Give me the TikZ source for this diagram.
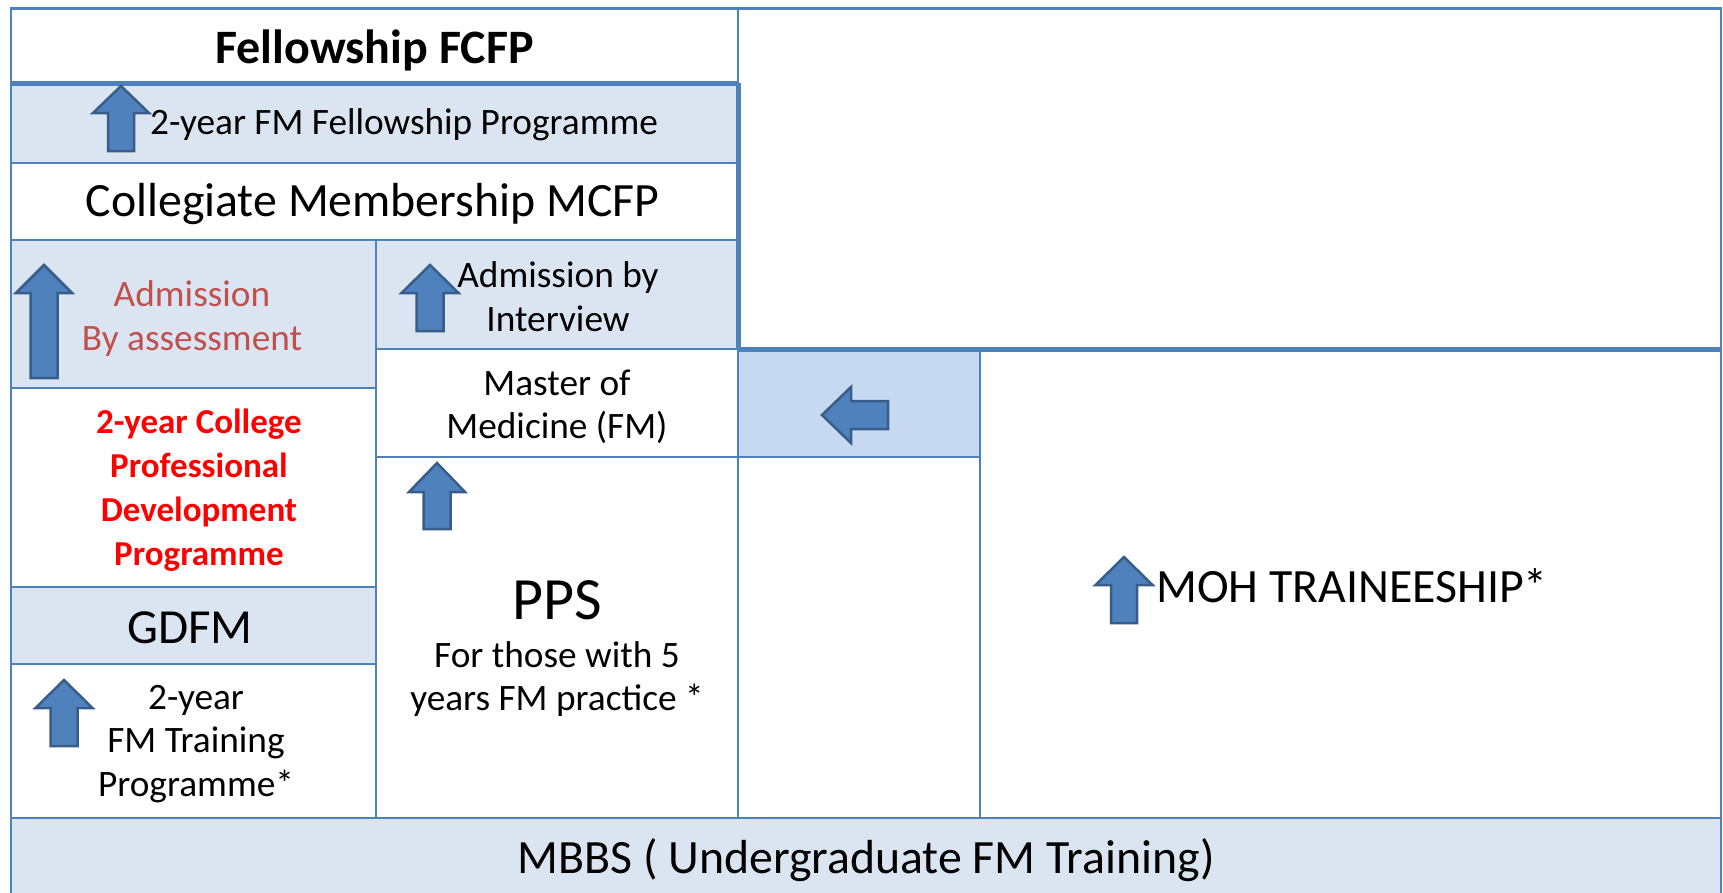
\documentclass[tikz,border=0pt]{standalone}
\usepackage{fontspec}
\setmainfont{Carlito}
\definecolor{bordc}{HTML}{4F81BD}
\definecolor{lblue}{HTML}{DBE5F1}
\definecolor{mblue}{HTML}{C6D9F1}
\definecolor{arrfill}{HTML}{4F81BD}
\definecolor{arrline}{HTML}{385D8A}
\definecolor{redish}{HTML}{C0504D}
\definecolor{pured}{HTML}{FF0000}
\newcommand\bodyfont{\fontsize{37.3}{43.5}\selectfont}
\newcommand\boldbodyfont{\fontsize{35}{44}\selectfont\bfseries}
\newcommand\bigfont{\fontsize{47.8}{56}\selectfont}
\newcommand\hugefont{\fontsize{60}{70}\selectfont}
\tikzset{
  cell/.style={draw=bordc, line width=2pt, inner sep=0pt, outer sep=0pt, align=center},
  white cell/.style={cell, fill=white},
  blue cell/.style={cell, fill=lblue},
  mid cell/.style={cell, fill=mblue},
  thick rule/.style={draw=bordc, line width=5pt},
  blockarrow/.style={fill=arrfill, draw=arrline, line width=2.5pt, line join=miter},
  txt/.style={inner sep=0pt, align=center, text=black},
}
% up arrow: tip x, tip y, head half width, head base y, shaft half width, bottom y
\newcommand\blockup[6]{%
  \path[blockarrow] (#1,#2) -- (#1+#3,#4) -- (#1+#5,#4) -- (#1+#5,#6) -- (#1-#5,#6) -- (#1-#5,#4) -- (#1-#3,#4) -- cycle;}
\begin{document}
\begin{tikzpicture}[x=1pt,y=-1pt]
\useasboundingbox (0,0) rectangle (1723,892);
\fill[white] (0,0) rectangle (1723,892);
% cells
\node[white cell, minimum width=727pt, minimum height=75pt] (fcfp) at (374.5,45.5) {};
\node[blue cell, minimum width=727pt, minimum height=80pt] (fprog) at (374.5,123) {};
\node[white cell, minimum width=727pt, minimum height=77pt] (mcfp) at (374.5,201.5) {};
\node[blue cell, minimum width=365pt, minimum height=148pt] (assess) at (193.5,314) {};
\node[white cell, minimum width=365pt, minimum height=199pt] (cpdp) at (193.5,487.5) {};
\node[blue cell, minimum width=365pt, minimum height=77pt] (gdfm) at (193.5,625.5) {};
\node[white cell, minimum width=365pt, minimum height=154pt] (fmtp) at (193.5,741) {};
\node[blue cell, minimum width=362pt, minimum height=109pt] (interview) at (557,294.5) {};
\node[white cell, minimum width=362pt, minimum height=108pt] (mmed) at (557,403) {};
\node[white cell, minimum width=362pt, minimum height=361pt] (pps) at (557,637.5) {};
\node[white cell, minimum width=983pt, minimum height=341pt] (upright) at (1229.5,178.5) {};
\node[mid cell, minimum width=242pt, minimum height=108pt] (arrcell) at (859,403) {};
\node[white cell, minimum width=242pt, minimum height=361pt] (blank) at (859,637.5) {};
\node[white cell, minimum width=741pt, minimum height=469pt] (moh) at (1350.5,583.5) {};
\node[blue cell, minimum width=1710pt, minimum height=84pt] (mbbs) at (866,860) {};
% thick rules
\draw[thick rule] (fprog.north west) -- (fprog.north east);
\draw[thick rule] (fprog.north east) -- (interview.south east);
\draw[thick rule] (upright.south west) -- (upright.south east);
\draw[draw=bordc, line width=3pt] (fcfp.north west) -- (upright.north east);
% texts
\node[txt, font=\fontsize{48}{56}\selectfont\bfseries] (tfcfp) at (374.5,50) {Fellowship FCFP};
\node[txt, font=\bodyfont, anchor=west] (tfprog) at (150,125) {2-year FM Fellowship Programme};
\node[txt, font=\bigfont] (tmcfp) at (372.5,204) {Collegiate Membership MCFP};
\node[txt, font=\bodyfont, text=redish] (tassess) at (192,318.5) {Admission\\By assessment};
\node[txt, font=\bodyfont] (tinterview) at (558,296.5) {Admission by\\Interview};
\node[txt, font=\bodyfont] (tmmed) at (557,407) {Master of\\Medicine (FM)};
\node[txt, font=\boldbodyfont, text=pured] (tcpdp) at (199,490) {2-year College\\Professional\\Development\\Programme};
\node[txt, font=\fontsize{49}{56}\selectfont] (tgdfm) at (190,628) {GDFM};
\node[txt, font=\bodyfont] (tfmtp) at (196,744) {2-year\\FM Training\\Programme*};
\node[txt, font=\hugefont] (tpps) at (557,600) {PPS};
\node[txt, font=\bodyfont] (tppsnote) at (557,679) {For those with 5\\years FM practice *};
\node[txt, font=\bigfont, anchor=west] (tmoh) at (1156,586) {MOH TRAINEESHIP*};
\node[txt, font=\bigfont] (tmbbs) at (866,860) {MBBS ( Undergraduate FM Training)};
% arrows
\blockup{121}{86}{28}{113}{13}{151}
\blockup{44}{265}{28}{293}{13.5}{378}
\blockup{430}{265}{28.5}{293}{13.5}{331}
\blockup{437}{463}{28}{492}{13.5}{529}
\blockup{64}{680}{28.5}{708}{13.5}{746}
\blockup{1124}{557}{28.5}{585}{13}{623}
\path[blockarrow] (822,415) -- (851,387) -- (851,401) -- (888,401) -- (888,429) -- (851,429) -- (851,443) -- cycle;
\end{tikzpicture}
\end{document}
